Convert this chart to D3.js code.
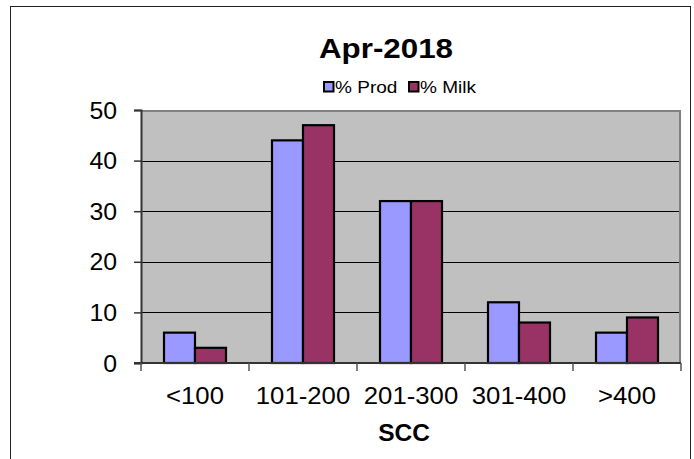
<!DOCTYPE html>
<html>
<head>
<meta charset="utf-8">
<script src="https://cdn.jsdelivr.net/npm/d3@7"></script>
<style>
body { margin: 0; background: #fff; }
text { font-family: "Liberation Sans", Arial, sans-serif; }
</style>
</head>
<body>
<div id="chart"></div>
<script>
// chart values
var categories = ["<100", "101-200", "201-300", "301-400", ">400"];
var seriesNames = ["% Prod", "% Milk"];
var prodValues = [6, 44, 32, 12, 6];
var milkValues = [3, 47, 32, 8, 9];
var yTicks = [0, 10, 20, 30, 40, 50];

var colours = ["#9999FF", "#993366"];

var width = 694, height = 459;
var margin = {top: 110, right: 13, bottom: 96, left: 141};
var plotW = width - margin.left - margin.right,
    plotH = height - margin.top - margin.bottom;
var stretch = 1.08; // the text in the picture is a bit wide

var svg = d3.select("#chart")
			.append("svg")
			.attr("width", width)
			.attr("height", height);

// outer frame
svg.append("rect")
   .attr("x", 10.5).attr("y", 6.5)
   .attr("width", 680).attr("height", 470)
   .attr("fill", "white")
   .attr("stroke", "#222").attr("stroke-width", 1);

var g = svg.append("g")
		   .attr("transform", "translate(" + margin.left + "," + margin.top + ")");

var x0 = d3.scaleBand()
		   .domain(categories)
		   .range([0, plotW])
		   .paddingInner(0.426)
		   .paddingOuter(0.213);

var x1 = d3.scaleBand()
		   .domain(seriesNames)
		   .range([0, x0.bandwidth()]);

var y = d3.scaleLinear()
		  .domain([0, 50])
		  .range([plotH, 0]);

// plot background
g.append("rect")
 .attr("width", plotW).attr("height", plotH)
 .attr("fill", "#C0C0C0");

// gridlines
g.selectAll(".grid")
 .data(yTicks.filter(function (d) { return d > 0 && d < 50; }))
 .enter()
 .append("line")
 .attr("x1", 0).attr("x2", plotW)
 .attr("y1", function (d) { return Math.round(y(d)) + 0.5; })
 .attr("y2", function (d) { return Math.round(y(d)) + 0.5; })
 .attr("stroke", "black").attr("stroke-width", 1);

// plot border top/right
g.append("path")
 .attr("d", "M0,1H" + (plotW - 1) + "V" + plotH)
 .attr("fill", "none")
 .attr("stroke", "#808080").attr("stroke-width", 2);

// bars
var rows = categories.map(function (c, i) {
	return {cat: c, vals: [prodValues[i], milkValues[i]]};
});

g.selectAll(".group")
 .data(rows)
 .enter()
 .append("g")
 .attr("transform", function (d) { return "translate(" + x0(d.cat) + ",0)"; })
 .selectAll("rect")
 .data(function (d) { return d.vals.map(function (v, k) { return {name: seriesNames[k], v: v, k: k}; }); })
 .enter()
 .append("rect")
 .attr("x", function (d) { return x1(d.name); })
 .attr("y", function (d) { return y(d.v); })
 .attr("width", x1.bandwidth())
 .attr("height", function (d) { return plotH - y(d.v); })
 .attr("fill", function (d) { return colours[d.k]; })
 .attr("stroke", "black")
 .attr("stroke-width", 2.2);

// y axis
var yAxis = d3.axisLeft(y)
			  .tickValues(yTicks)
			  .tickSize(7)
			  .tickFormat("");
var ya = g.append("g").call(yAxis);
ya.select(".domain").attr("stroke", "#333").attr("stroke-width", 2);
ya.selectAll(".tick line").attr("stroke", "#333").attr("stroke-width", 1.5);
ya.selectAll(".tick")
  .append("text")
  .attr("transform", "translate(-24,8) scale(" + stretch + ",1)")
  .attr("text-anchor", "end")
  .attr("fill", "black")
  .style("font-size", "23px")
  .text(function (d) { return d; });

// x axis
var xa = g.append("g").attr("transform", "translate(0," + plotH + ")");
xa.append("line")
  .attr("x1", -7).attr("x2", plotW)
  .attr("stroke", "#333").attr("stroke-width", 2);
xa.selectAll(".xtick")
  .data(d3.range(categories.length + 1))
  .enter()
  .append("line")
  .attr("x1", function (d) { return d * x0.step(); })
  .attr("x2", function (d) { return d * x0.step(); })
  .attr("y1", 0).attr("y2", 8)
  .attr("stroke", "#555").attr("stroke-width", 1.5);
xa.selectAll(".xlabel")
  .data(categories)
  .enter()
  .append("text")
  .attr("transform", function (d) {
	  return "translate(" + (x0(d) + x0.bandwidth() / 2) + ",40.5) scale(" + 1.05 + ",1)";
  })
  .attr("text-anchor", "middle")
  .style("font-size", "24.5px")
  .text(function (d) { return d; });

// axis title
svg.append("text")
   .attr("transform", "translate(404,441)")
   .attr("text-anchor", "middle")
   .style("font-size", "24.5px")
   .style("font-weight", "bold")
   .text("SCC");

// title
svg.append("text")
   .attr("transform", "translate(386,57.5) scale(1.1,1)")
   .attr("text-anchor", "middle")
   .style("font-size", "28.5px")
   .style("font-weight", "bold")
   .text("Apr-2018");

// legend
var legend = svg.append("g").attr("transform", "translate(323,81)");
var legendX = [0, 85];
var items = legend.selectAll(".item")
				  .data(seriesNames)
				  .enter()
				  .append("g")
				  .attr("transform", function (d, i) { return "translate(" + legendX[i] + ",0)"; });
items.append("rect")
	 .attr("x", 1).attr("y", 1)
	 .attr("width", 9.5).attr("height", 9.5)
	 .attr("fill", function (d, i) { return colours[i]; })
	 .attr("stroke", "black").attr("stroke-width", 2);
items.append("text")
	 .attr("transform", "translate(12,11.7) scale(1.12,1)")
	 .style("font-size", "17px")
	 .text(function (d) { return d; });
</script>
</body>
</html>
